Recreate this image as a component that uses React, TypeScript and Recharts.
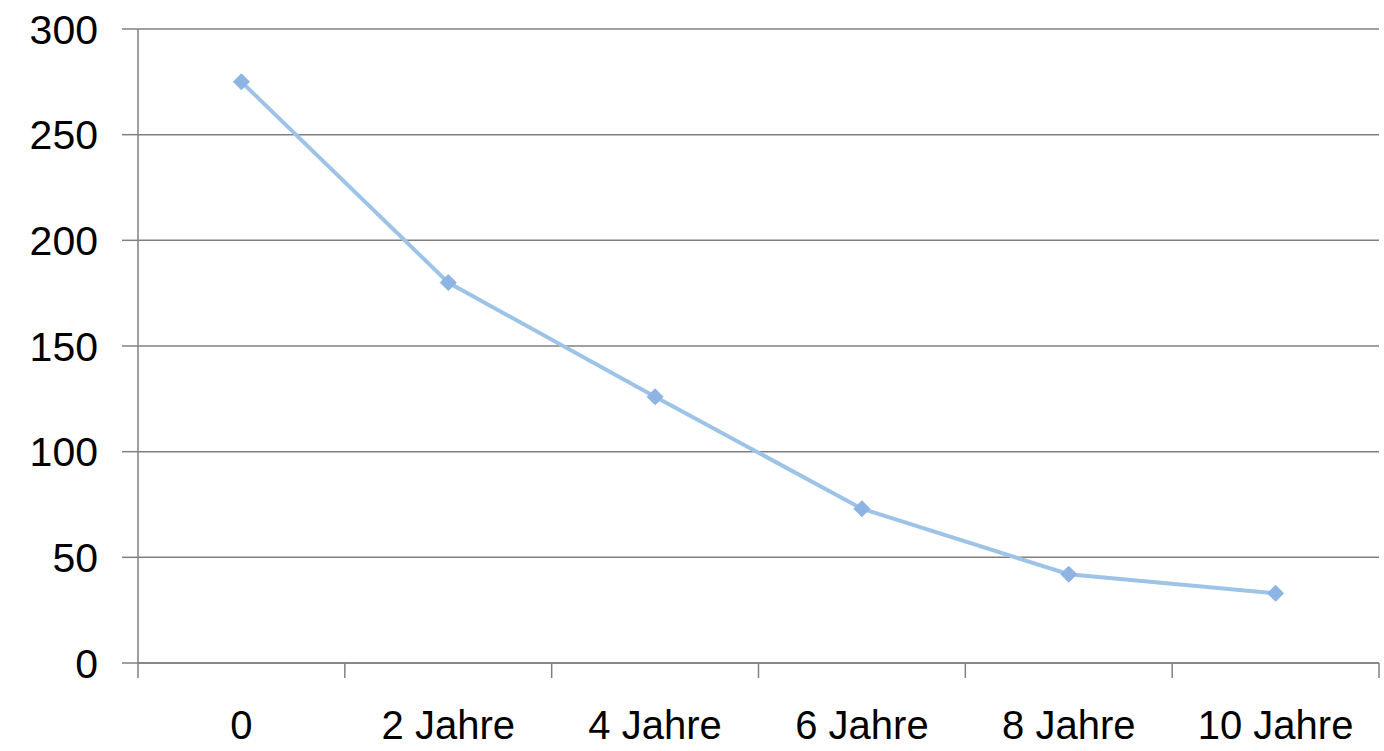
import { LineChart, Line, XAxis, YAxis, CartesianGrid } from 'recharts';

// Jahre seit Beginn -> Wert
const categories = ['0', '2 Jahre', '4 Jahre', '6 Jahre', '8 Jahre', '10 Jahre'];
const values = [275, 180, 126, 73, 42, 33];
const yTicks = [0, 50, 100, 150, 200, 250, 300];

const data = categories.map((label, i) => ({ label, value: values[i] }));

const AXIS = '#808080';
const LINE = '#9DC3E6';
const MARKER = '#8DB4E2';
const FONT = '"Liberation Sans", Arial, sans-serif';
const TICK_SIZE = 15;
const TICK_MARGIN = 33;

const Diamond = (props: any) => {
    const { cx, cy } = props;
    if (cx == null || cy == null) return null;
    const r = 8;
    return (
        <polygon
            points={`${cx},${cy - r} ${cx + r},${cy} ${cx},${cy + r} ${cx - r},${cy}`}
            fill={MARKER}
            stroke={MARKER}
        />
    );
};

// label in the middle of the band, tick marks on the band edges (excel style)
const CategoryTick = (props: any) => {
    const { x, y, payload, index, visibleTicksCount, width } = props;
    const half = payload.offset > 2 ? payload.offset : width / visibleTicksCount / 2;
    const axisY = y - TICK_SIZE - TICK_MARGIN;
    return (
        <g>
            <line x1={x - half} x2={x - half} y1={axisY} y2={axisY + TICK_SIZE} stroke={AXIS} strokeWidth={1.5} />
            {index === visibleTicksCount - 1 && (
                <line x1={x + half} x2={x + half} y1={axisY} y2={axisY + TICK_SIZE} stroke={AXIS} strokeWidth={1.5} />
            )}
            <text x={x} y={y} dy="0.71em" textAnchor="middle" fill="#000" fontSize={40} fontFamily={FONT}>
                {payload.value}
            </text>
        </g>
    );
};

export default function App() {
    return (
        <div style={{ position: 'absolute', left: 0, top: 0, background: '#fff' }}>
            <LineChart
                width={1384}
                height={751}
                data={data}
                margin={{ top: 29, right: 5, bottom: 0, left: 0 }}
            >
                <CartesianGrid vertical={false} stroke={AXIS} strokeWidth={1.5} />
                <XAxis
                    dataKey="label"
                    scale="band"
                    interval={0}
                    height={88}
                    tickLine={false}
                    tickSize={TICK_SIZE}
                    tickMargin={TICK_MARGIN}
                    axisLine={{ stroke: AXIS, strokeWidth: 1.5 }}
                    tick={<CategoryTick />}
                />
                <YAxis
                    width={138}
                    domain={[0, 300]}
                    ticks={yTicks}
                    interval={0}
                    tickSize={16}
                    tickMargin={24}
                    axisLine={{ stroke: AXIS, strokeWidth: 1.5 }}
                    tickLine={{ stroke: AXIS, strokeWidth: 1.5 }}
                    tick={{ fill: '#000', fontSize: 41, fontFamily: FONT }}
                />
                <Line
                    type="linear"
                    dataKey="value"
                    stroke={LINE}
                    strokeWidth={4}
                    dot={<Diamond />}
                    activeDot={false}
                    isAnimationActive={false}
                />
            </LineChart>
        </div>
    );
}
